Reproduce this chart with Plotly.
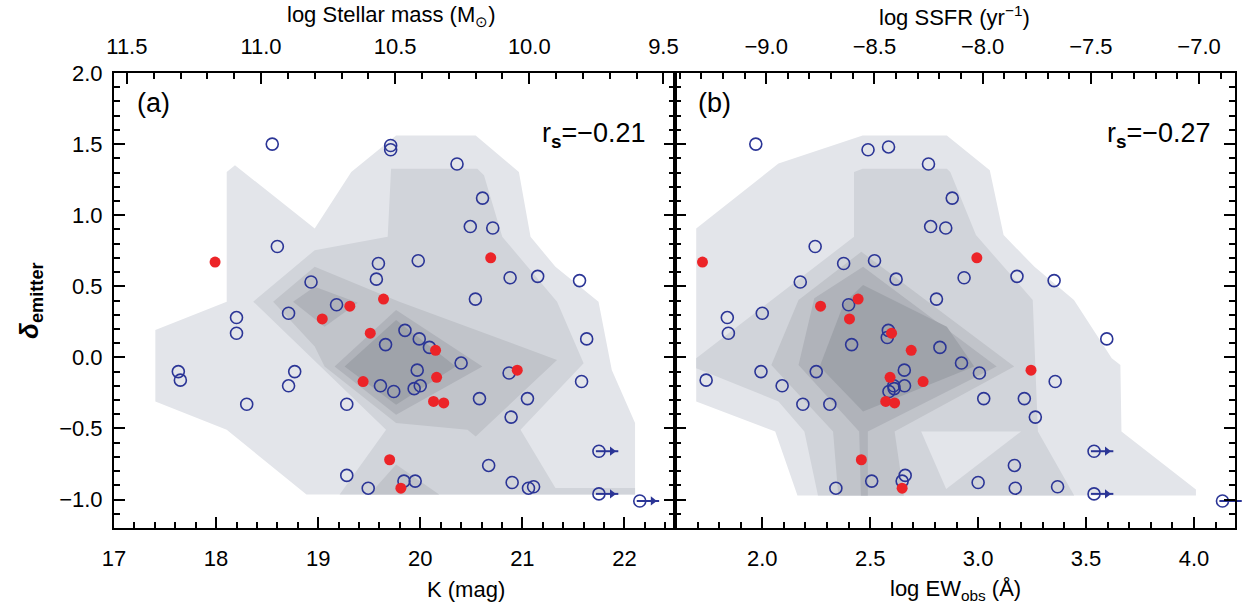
import plotly.graph_objects as go

# ---------------- panel (a): K magnitude ----------------
k_blue = [18.55, 19.71, 19.71, 20.36, 20.61, 20.49, 20.71, 18.60, 19.59, 19.98,
          19.57, 20.88, 21.15, 21.56, 18.93, 20.54, 19.18, 18.71, 18.20, 18.20,
          19.85, 19.99, 21.63, 19.66, 20.09, 20.40, 19.97, 20.87, 17.63, 17.65,
          18.77, 18.71, 19.61, 19.74, 19.94, 20.00, 21.58, 20.58, 21.05, 18.30,
          19.28, 20.89, 20.67, 19.28, 19.84, 19.95, 20.90, 19.49, 21.06, 21.11]
d_blue_a = [1.50, 1.49, 1.46, 1.36, 1.12, 0.92, 0.91, 0.78, 0.66, 0.68,
            0.55, 0.56, 0.57, 0.54, 0.53, 0.41, 0.37, 0.31, 0.28, 0.17,
            0.19, 0.13, 0.13, 0.09, 0.07, -0.04, -0.09, -0.11, -0.10, -0.16,
            -0.10, -0.20, -0.20, -0.24, -0.22, -0.20, -0.17, -0.29, -0.29, -0.33,
            -0.33, -0.42, -0.76, -0.83, -0.87, -0.87, -0.88, -0.92, -0.92, -0.91]
k_red = [17.99, 20.69, 19.64, 19.31, 19.04, 19.51, 20.15, 20.95, 20.16, 19.44,
         20.13, 20.23, 19.70, 19.81]
d_red_a = [0.67, 0.70, 0.41, 0.36, 0.27, 0.17, 0.05, -0.09, -0.14, -0.17,
           -0.31, -0.32, -0.72, -0.92]
# objects with lower limits on K
k_lim = [21.75, 21.75, 22.15]
d_lim_a = [-0.66, -0.96, -1.01]

# ---------------- panel (b): log EW_obs ----------------
ew_blue = [1.970, 2.490, 2.585, 2.770, 2.880, 2.780, 2.850, 2.245, 2.377, 2.520,
           2.176, 2.620, 2.935, 3.180, 3.352, 2.807, 2.400, 1.838, 2.000, 1.843,
           2.584, 2.579, 2.414, 2.823, 2.923, 1.740, 1.994, 2.092, 2.250, 2.658,
           2.659, 2.609, 2.611, 2.587, 2.188, 2.313, 2.662, 2.648, 2.507, 2.341,
           3.006, 3.596, 3.357, 3.026, 3.214, 3.265, 3.168, 3.000, 3.172, 3.368]
d_blue_b = [1.50, 1.46, 1.48, 1.36, 1.12, 0.92, 0.91, 0.78, 0.66, 0.68,
            0.53, 0.55, 0.56, 0.57, 0.54, 0.41, 0.37, 0.28, 0.31, 0.17,
            0.19, 0.14, 0.09, 0.07, -0.04, -0.16, -0.10, -0.20, -0.10, -0.09,
            -0.20, -0.20, -0.22, -0.24, -0.33, -0.33, -0.83, -0.87, -0.87, -0.92,
            -0.11, 0.13, -0.17, -0.29, -0.29, -0.42, -0.76, -0.88, -0.92, -0.91]
ew_red = [1.723, 2.994, 2.444, 2.270, 2.404, 2.599, 2.690, 3.245, 2.592, 2.745,
          2.572, 2.613, 2.459, 2.648]
d_red_b = [0.67, 0.70, 0.41, 0.36, 0.27, 0.17, 0.05, -0.09, -0.14, -0.17,
           -0.31, -0.32, -0.72, -0.92]
ew_lim = [3.537, 3.537, 4.132]
d_lim_b = [-0.66, -0.96, -1.01]

# ---------------- tick values ----------------
k_ticks = [17, 18, 19, 20, 21, 22]
mass_ticks = [11.5, 11.0, 10.5, 10.0, 9.5]
ew_ticks = [2.0, 2.5, 3.0, 3.5, 4.0]
ssfr_ticks = [-9.0, -8.5, -8.0, -7.5, -7.0]
delta_ticks = [-1.0, -0.5, 0.0, 0.5, 1.0, 1.5, 2.0]

# ---------------- density contours, panel (a), outer -> inner ----------------
a_lvl1_k = [18.104, 18.185, 18.966, 19.324, 19.763, 20.543, 20.966, 21.080, 21.324,
            21.746, 21.876, 22.104, 22.104, 18.885, 18.104, 17.405, 17.405, 18.104]
a_lvl1_d = [1.304, 1.351, 0.906, 1.304, 1.561, 1.561, 1.304, 0.848, 0.637,
            0.392, -0.088, -0.462, -0.965, -0.965, -0.509, -0.310, 0.193, 0.392]
a_lvl2_k = [19.714, 20.559, 20.624, 20.803, 21.340, 21.600, 20.982, 21.324, 22.104,
            22.104, 19.210, 19.665, 18.364, 18.966, 19.681]
a_lvl2_d = [1.327, 1.327, 1.281, 0.848, 0.392, -0.041, -0.509, -0.918, -0.918,
            -0.965, -0.965, -0.509, 0.392, 0.754, 0.848]
a_lvl3_k = [18.559, 18.966, 19.795, 21.340, 20.543, 20.462, 19.763, 19.063, 18.966]
a_lvl3_d = [0.392, 0.637, 0.392, -0.018, -0.556, -0.509, -0.462, -0.064, 0.076]
a_lvl3b_k = [19.502, 19.763, 20.185]
a_lvl3b_d = [-0.965, -0.754, -0.965]
a_lvl4_k = [18.754, 18.966, 19.389, 19.063]
a_lvl4_d = [0.392, 0.497, 0.385, 0.216]
a_lvl4b_k = [19.161, 19.763, 20.608, 19.763]
a_lvl4b_d = [-0.064, 0.333, -0.064, -0.404]
a_lvl5_k = [19.259, 19.763, 20.348, 19.763]
a_lvl5_d = [-0.064, 0.263, -0.064, -0.333]

# ---------------- density contours, panel (b), outer -> inner ----------------
b_lvl1_w = [1.694, 2.075, 2.465, 2.855, 3.054, 3.118, 3.261, 3.444, 3.619, 3.659,
            3.664, 4.009, 4.009, 2.163, 2.060, 1.694]
b_lvl1_d = [0.906, 1.363, 1.561, 1.561, 1.316, 0.860, 0.637, 0.404, -0.006, -0.053,
            -0.521, -0.930, -0.972, -0.972, -0.521, -0.310]
b_lvl2_w = [2.425, 2.465, 2.855, 2.871, 2.990, 3.253, 3.277, 3.445, 2.258, 2.195,
            2.075, 1.694, 1.694, 2.425]
b_lvl2_d = [1.304, 1.327, 1.327, 1.304, 0.860, 0.404, -0.521, -0.972, -0.972, -0.521,
            -0.310, -0.076, -0.006, 0.848]
b_gap_w = [2.736, 3.199, 2.852]
b_gap_d = [-0.521, -0.521, -0.925]
b_lvl3_w = [2.042, 2.168, 2.459, 3.167, 2.613, 2.656, 2.352, 2.328]
b_lvl3_d = [-0.053, 0.404, 0.743, -0.064, -0.521, -0.972, -0.972, -0.521]
b_lvl4_w = [2.168, 2.241, 2.467, 3.086, 2.489, 2.489, 2.457, 2.449]
b_lvl4_d = [-0.053, 0.415, 0.637, -0.064, -0.521, -0.972, -0.972, -0.521]
b_lvl5_w = [2.266, 2.378, 2.467, 2.855, 2.982, 2.467]
b_lvl5_d = [-0.064, 0.380, 0.509, 0.216, -0.064, -0.380]

LEVEL_COLORS = ["#e3e5ea", "#d1d4da", "#c1c4ca", "#b0b3ba", "#9fa3aa"]
BLUE = "#2b3596"
RED = "#ec2428"
FONT = "Liberation Sans"
# length of the limit arrows, in axis units of each panel
ARROW_A = 0.16
ARROW_B = 0.075

fig = go.Figure()


def shade(xs, ys, color, xa, ya):
    fig.add_trace(go.Scatter(x=xs, y=ys, xaxis=xa, yaxis=ya, mode="lines",
                             fill="toself", fillcolor=color, line=dict(width=0),
                             hoverinfo="skip", showlegend=False))


# panel (a) shading
shade(a_lvl1_k, a_lvl1_d, LEVEL_COLORS[0], "x", "y")
shade(a_lvl2_k, a_lvl2_d, LEVEL_COLORS[1], "x", "y")
shade(a_lvl3_k, a_lvl3_d, LEVEL_COLORS[2], "x", "y")
shade(a_lvl3b_k, a_lvl3b_d, LEVEL_COLORS[2], "x", "y")
shade(a_lvl4_k, a_lvl4_d, LEVEL_COLORS[3], "x", "y")
shade(a_lvl4b_k, a_lvl4b_d, LEVEL_COLORS[3], "x", "y")
shade(a_lvl5_k, a_lvl5_d, LEVEL_COLORS[4], "x", "y")

# panel (b) shading
shade(b_lvl1_w, b_lvl1_d, LEVEL_COLORS[0], "x2", "y2")
shade(b_lvl2_w, b_lvl2_d, LEVEL_COLORS[1], "x2", "y2")
shade(b_gap_w, b_gap_d, LEVEL_COLORS[0], "x2", "y2")
shade(b_lvl3_w, b_lvl3_d, LEVEL_COLORS[2], "x2", "y2")
shade(b_lvl4_w, b_lvl4_d, LEVEL_COLORS[3], "x2", "y2")
shade(b_lvl5_w, b_lvl5_d, LEVEL_COLORS[4], "x2", "y2")

# hidden carriers so the secondary (top) axes are rendered
for ticks, xa, ya in [(mass_ticks, "x3", "y"), (ssfr_ticks, "x4", "y2")]:
    fig.add_trace(go.Scatter(x=ticks, y=[None] * len(ticks), xaxis=xa, yaxis=ya,
                             mode="markers", marker=dict(opacity=0), hoverinfo="skip",
                             showlegend=False))

# limit arrows: horizontal shaft marker + triangular head, not clipped at the frame
for xs, ys, length, xa, ya in [(k_lim, d_lim_a, ARROW_A, "x", "y"),
                               (ew_lim, d_lim_b, ARROW_B, "x2", "y2")]:
    fig.add_trace(go.Scatter(x=[xv + length * 0.5 for xv in xs], y=ys, xaxis=xa, yaxis=ya,
                             mode="markers",
                             marker=dict(symbol="line-ew-open", size=16, color=BLUE,
                                         line=dict(color=BLUE, width=2)),
                             hoverinfo="skip", showlegend=False, cliponaxis=False))
    fig.add_trace(go.Scatter(x=[xv + length * 0.8 for xv in xs], y=ys, xaxis=xa, yaxis=ya,
                             mode="markers", marker=dict(symbol="triangle-right", size=8,
                                                         color=BLUE),
                             hoverinfo="skip", showlegend=False, cliponaxis=False))

open_marker = dict(symbol="circle-open", size=12, color=BLUE, line=dict(width=1.6, color=BLUE))
red_marker = dict(symbol="circle", size=11, color=RED)

for xs, ys, xa, ya in [(k_blue, d_blue_a, "x", "y"), (k_lim, d_lim_a, "x", "y"),
                       (ew_blue, d_blue_b, "x2", "y2"), (ew_lim, d_lim_b, "x2", "y2")]:
    fig.add_trace(go.Scatter(x=xs, y=ys, xaxis=xa, yaxis=ya, mode="markers",
                             marker=open_marker, showlegend=False, cliponaxis=False))
for xs, ys, xa, ya in [(k_red, d_red_a, "x", "y"), (ew_red, d_red_b, "x2", "y2")]:
    fig.add_trace(go.Scatter(x=xs, y=ys, xaxis=xa, yaxis=ya, mode="markers",
                             marker=red_marker, showlegend=False))

tick_font = dict(family=FONT, size=22, color="black")
title_font = dict(family=FONT, size=22, color="black")
label_font = dict(family=FONT, size=27, color="black")
SPLIT = 563 / 1124

annotations = [
    dict(text="(a)", x=0.019, y=0.934, xref="paper", yref="paper", xanchor="left",
         yanchor="middle", showarrow=False, font=label_font),
    dict(text="(b)", x=SPLIT + 0.018, y=0.934, xref="paper", yref="paper", xanchor="left",
         yanchor="middle", showarrow=False, font=label_font),
    dict(text="r<sub><b>s</b></sub>=\u22120.21", x=0.476, y=0.864, xref="paper", yref="paper",
         xanchor="right", yanchor="middle", showarrow=False, font=label_font),
    dict(text="r<sub><b>s</b></sub>=\u22120.27", x=0.98, y=0.864, xref="paper", yref="paper",
         xanchor="right", yanchor="middle", showarrow=False, font=label_font),
    dict(text="K (mag)", x=(467 - 114) / 1124, y=-0.136, xref="paper", yref="paper",
         xanchor="center", yanchor="middle", showarrow=False, font=title_font),
    dict(text="log EW<sub>obs</sub> (\u00c5)", x=(958 - 114) / 1124, y=-0.136, xref="paper",
         yref="paper", xanchor="center", yanchor="middle", showarrow=False, font=title_font),
    dict(text="log Stellar mass (M<sub>\u2299</sub>)", x=(392 - 114) / 1124, y=1.126,
         xref="paper", yref="paper", xanchor="center", yanchor="middle", showarrow=False,
         font=title_font),
    dict(text="log SSFR (yr<sup>\u22121</sup>)", x=(957 - 114) / 1124, y=1.126,
         xref="paper", yref="paper", xanchor="center", yanchor="middle", showarrow=False,
         font=title_font),
    dict(text="<b><i>\u03b4</i></b><sub><b>emitter</b></sub>", x=-0.075, y=(528 - 300) / 455,
         xref="paper", yref="paper", xanchor="center", yanchor="middle", textangle=-90,
         showarrow=False, font=dict(family=FONT, size=26)),
]

common = dict(showline=True, linewidth=2, linecolor="black", ticks="inside", ticklen=11,
              tickwidth=2, tickcolor="black", showgrid=False, zeroline=False,
              tickfont=tick_font)
minor_x = lambda step: dict(ticks="inside", ticklen=6, tickwidth=1.5, tickcolor="black",
                            dtick=step, showgrid=False)

fig.update_layout(
    width=1242, height=610,
    margin=dict(l=114, r=4, t=73, b=82),
    paper_bgcolor="white", plot_bgcolor="white",
    font=dict(family=FONT, color="black"),
    xaxis=dict(domain=[0, SPLIT], range=[17, 22.5], anchor="y", side="bottom",
               tickmode="array", tickvals=k_ticks, ticktext=[str(v) for v in k_ticks],
               minor=minor_x(0.2), ticklabelstandoff=10, **common),
    xaxis3=dict(domain=[0, SPLIT], range=[11.548, 9.455], anchor="y", overlaying="x",
                side="top", tickmode="array", tickvals=mass_ticks,
                ticktext=[f"{v:.1f}" for v in mass_ticks], minor=minor_x(0.1),
                ticklabelstandoff=8, **common),
    xaxis2=dict(domain=[SPLIT, 1], range=[1.598, 4.19], anchor="y2", side="bottom",
                tickmode="array", tickvals=ew_ticks, ticktext=[f"{v:.1f}" for v in ew_ticks],
                minor=minor_x(0.1), ticklabelstandoff=10, **common),
    xaxis4=dict(domain=[SPLIT, 1], range=[-9.419, -6.834], anchor="y2", overlaying="x2",
                side="top", tickmode="array", tickvals=ssfr_ticks,
                ticktext=[f"{v:.1f}".replace("-", "\u2212") for v in ssfr_ticks],
                minor=minor_x(0.1), ticklabelstandoff=8, **common),
    yaxis=dict(domain=[0, 1], range=[-1.2, 2.0], anchor="x", tickmode="array",
               tickvals=delta_ticks,
               ticktext=[f"{v:.1f}".replace("-", "\u2212") for v in delta_ticks],
               mirror="ticks", minor=minor_x(0.1), ticklabelstandoff=5, **common),
    yaxis2=dict(domain=[0, 1], range=[-1.2, 2.0], anchor="x2", tickmode="array",
                tickvals=delta_ticks, mirror="ticks", showticklabels=False,
                minor=minor_x(0.1), **common),
)
fig.update_layout(annotations=annotations)

fig.write_html("out.html")
